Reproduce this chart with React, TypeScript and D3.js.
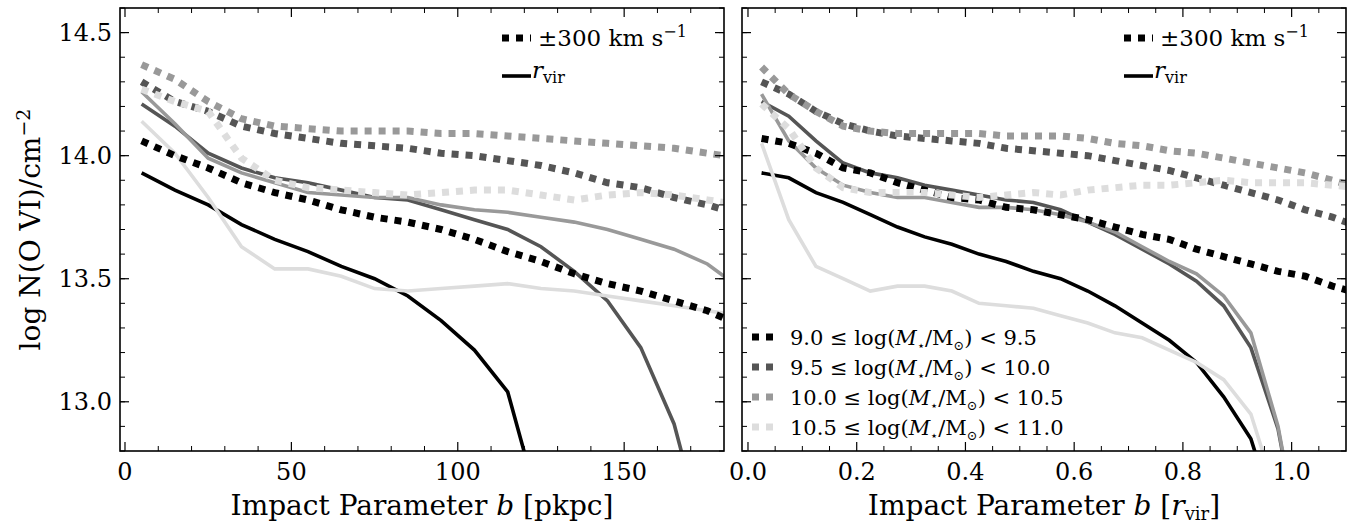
import * as d3 from "d3";

// bins in pkpc (left) and in r_vir (right)
const bKpc = [5, 15, 25, 35, 45, 55, 65, 75, 85, 95, 105, 115, 125, 135, 145, 155, 165, 175, 185];
const bRvir = [0.025, 0.075, 0.125, 0.175, 0.225, 0.275, 0.325, 0.375, 0.425, 0.475, 0.525, 0.575,
  0.625, 0.675, 0.725, 0.775, 0.825, 0.875, 0.925, 0.975, 1.025, 1.075, 1.125];

const massBins = ["9.0", "9.5", "10.0", "10.5", "11.0"];
const colors = ["#000000", "#555555", "#999999", "#dddddd"];

// left panel: within r_vir (solid)
const kpcSolid = [
  [13.93, 13.86, 13.80, 13.72, 13.66, 13.61, 13.55, 13.5, 13.43, 13.33, 13.21, 13.04, 12.55],
  [14.21, 14.12, 14.01, 13.95, 13.91, 13.89, 13.86, 13.83, 13.82, 13.78, 13.74, 13.70, 13.63, 13.53, 13.41, 13.22, 12.91, 12.4],
  [14.26, 14.13, 13.99, 13.93, 13.89, 13.85, 13.84, 13.83, 13.83, 13.80, 13.78, 13.77, 13.75, 13.73, 13.70, 13.66, 13.62, 13.56, 13.46],
  [14.14, 14.01, 13.83, 13.63, 13.54, 13.54, 13.51, 13.46, 13.45, 13.46, 13.47, 13.48, 13.46, 13.45, 13.43, 13.41, 13.39, 13.37, 13.35],
];
// left panel: +-300 km/s (dotted)
const kpcDotted = [
  [14.06, 14.0, 13.95, 13.89, 13.85, 13.82, 13.78, 13.75, 13.73, 13.70, 13.66, 13.61, 13.57, 13.52, 13.48, 13.45, 13.41, 13.37, 13.31],
  [14.30, 14.22, 14.18, 14.12, 14.09, 14.07, 14.05, 14.04, 14.03, 14.01, 14.0, 13.98, 13.96, 13.93, 13.89, 13.87, 13.83, 13.80, 13.76],
  [14.37, 14.31, 14.22, 14.15, 14.12, 14.11, 14.10, 14.10, 14.10, 14.09, 14.09, 14.08, 14.07, 14.06, 14.05, 14.04, 14.03, 14.01, 13.99],
  [14.27, 14.22, 14.18, 13.99, 13.90, 13.87, 13.86, 13.85, 13.84, 13.85, 13.86, 13.86, 13.84, 13.82, 13.84, 13.85, 13.84, 13.82, 13.80],
];
// right panel
const rvirSolid = [
  [13.93, 13.91, 13.85, 13.81, 13.76, 13.71, 13.67, 13.64, 13.60, 13.57, 13.53, 13.50, 13.45, 13.39, 13.32, 13.25, 13.16, 13.02, 12.85, 12.5],
  [14.22, 14.16, 14.06, 13.97, 13.93, 13.91, 13.88, 13.86, 13.84, 13.82, 13.81, 13.78, 13.73, 13.68, 13.62, 13.56, 13.49, 13.39, 13.22, 12.89, 12.3],
  [14.25, 14.06, 13.95, 13.88, 13.85, 13.83, 13.83, 13.81, 13.79, 13.79, 13.78, 13.76, 13.73, 13.69, 13.63, 13.57, 13.52, 13.43, 13.28, 12.9, 12.3],
  [14.05, 13.74, 13.55, 13.5, 13.45, 13.47, 13.47, 13.45, 13.40, 13.39, 13.38, 13.35, 13.32, 13.28, 13.26, 13.21, 13.16, 13.09, 12.95, 12.6],
];
const rvirDotted = [
  [14.07, 14.05, 14.01, 13.95, 13.93, 13.89, 13.86, 13.83, 13.82, 13.79, 13.78, 13.76, 13.74, 13.71, 13.68, 13.66, 13.62, 13.59, 13.56, 13.53, 13.51, 13.47, 13.44],
  [14.30, 14.25, 14.18, 14.13, 14.10, 14.08, 14.07, 14.06, 14.05, 14.03, 14.02, 14.01, 14.0, 13.98, 13.96, 13.94, 13.91, 13.88, 13.85, 13.82, 13.78, 13.75, 13.71],
  [14.36, 14.25, 14.18, 14.12, 14.10, 14.09, 14.09, 14.09, 14.09, 14.08, 14.08, 14.08, 14.07, 14.05, 14.04, 14.02, 14.01, 13.99, 13.97, 13.95, 13.93, 13.90, 13.87],
  [14.21, 14.11, 13.95, 13.87, 13.85, 13.85, 13.85, 13.84, 13.83, 13.84, 13.85, 13.84, 13.86, 13.87, 13.88, 13.88, 13.89, 13.90, 13.89, 13.89, 13.89, 13.88, 13.87],
];

const W = 1351, H = 527;
const top = 8, bottom = 451;
const font = "'DejaVu Serif', 'Liberation Serif', serif";
const yScale = d3.scaleLinear().domain([12.8, 14.6]).range([bottom, top]);
const yMajor = [13.0, 13.5, 14.0, 14.5];
const yMinor = d3.range(12.8, 14.61, 0.1).map((v) => +v.toFixed(1));
const DOT = "7 7";
const SOLID_W = 3.6;

function Panel({ x0, x1, domain, xs, solid, dotted, majors, minors, fmt, xlabel, yLabels, massLegend }: any) {
  const x = d3.scaleLinear().domain(domain).range([x0, x1]);
  const line = d3.line<number>().x((_, i) => x(xs[i])).y((v) => yScale(v));
  return (
    <g>
      <defs>
        <clipPath id={`c${x0}`}><rect x={x0} y={top} width={x1 - x0} height={bottom - top} /></clipPath>
      </defs>
      <g clipPath={`url(#c${x0})`}>
        {solid.map((s: number[], i: number) => (
          <path key={"s" + i} d={line(s) || ""} fill="none" stroke={colors[i]} strokeWidth={SOLID_W} />
        ))}
        {dotted.map((s: number[], i: number) => (
          <path key={"d" + i} d={line(s) || ""} fill="none" stroke={colors[i]} strokeWidth={7} strokeDasharray={DOT} />
        ))}
      </g>
      <rect x={x0} y={top} width={x1 - x0} height={bottom - top} fill="none" stroke="#000" strokeWidth={1.6} />
      {majors.map((t: number) => (
        <g key={"mx" + t}>
          <line x1={x(t)} x2={x(t)} y1={bottom} y2={bottom - 9} stroke="#000" strokeWidth={1.2} />
          <line x1={x(t)} x2={x(t)} y1={top} y2={top + 9} stroke="#000" strokeWidth={1.2} />
          <text x={x(t)} y={bottom + 29} textAnchor="middle" fontSize={24} fontFamily={font}>{fmt(t)}</text>
        </g>
      ))}
      {minors.map((t: number) => (
        <g key={"nx" + t}>
          <line x1={x(t)} x2={x(t)} y1={bottom} y2={bottom - 5} stroke="#000" strokeWidth={1} />
          <line x1={x(t)} x2={x(t)} y1={top} y2={top + 5} stroke="#000" strokeWidth={1} />
        </g>
      ))}
      {yMajor.map((t) => (
        <g key={"my" + t}>
          <line x1={x0} x2={x0 + 9} y1={yScale(t)} y2={yScale(t)} stroke="#000" strokeWidth={1.2} />
          <line x1={x1} x2={x1 - 9} y1={yScale(t)} y2={yScale(t)} stroke="#000" strokeWidth={1.2} />
          {yLabels && (
            <text x={x0 - 8} y={yScale(t) + 8} textAnchor="end" fontSize={24} fontFamily={font}>{t.toFixed(1)}</text>
          )}
        </g>
      ))}
      {yMinor.map((t) => (
        <g key={"ny" + t}>
          <line x1={x0} x2={x0 + 5} y1={yScale(t)} y2={yScale(t)} stroke="#000" strokeWidth={1} />
          <line x1={x1} x2={x1 - 5} y1={yScale(t)} y2={yScale(t)} stroke="#000" strokeWidth={1} />
        </g>
      ))}
      <text x={(x0 + x1) / 2} y={H - 12} textAnchor="middle" fontSize={28} fontFamily={font}>{xlabel}</text>
      {/* line-style legend */}
      <line x1={x1 - 222} x2={x1 - 193} y1={38} y2={38} stroke="#000" strokeWidth={7} strokeDasharray={DOT} />
      <text x={x1 - 186} y={46} fontSize={23} fontFamily={font}>±300 km s<tspan dy={-9} fontSize={16}>−1</tspan></text>
      <line x1={x1 - 222} x2={x1 - 193} y1={76} y2={76} stroke="#000" strokeWidth={SOLID_W} />
      <text x={x1 - 192} y={78} fontSize={23} fontFamily={font} fontStyle="italic">r<tspan dy={5} fontSize={16} fontStyle="normal">vir</tspan></text>
      {massLegend && colors.map((c, i) => (
        <g key={"ml" + i}>
          <line x1={x0 + 10} x2={x0 + 38} y1={337 + i * 30} y2={337 + i * 30} stroke={c} strokeWidth={7} strokeDasharray={DOT} />
          <text x={x0 + 48} y={345 + i * 30} fontSize={21} fontFamily={font}>
            {massBins[i]} ≤ log(<tspan fontStyle="italic">M</tspan><tspan dy={5} fontSize={13}>⋆</tspan><tspan dy={-5}>/M</tspan><tspan dy={5} fontSize={13}>⊙</tspan><tspan dy={-5}>) &lt; {massBins[i + 1]}</tspan>
          </text>
        </g>
      ))}
    </g>
  );
}

export default function App() {
  const fmtK = (t: number) => String(t);
  const fmtR = (t: number) => t.toFixed(1);
  return (
    <svg width={W} height={H} style={{ position: "absolute", left: 0, top: 0, background: "#fff" }}>
      <Panel x0={120} x1={724} domain={[-1.5, 180]} xs={bKpc} solid={kpcSolid} dotted={kpcDotted}
        majors={[0, 50, 100, 150]} minors={d3.range(10, 180, 10).filter((t) => t % 50 !== 0)} fmt={fmtK}
        xlabel={<>Impact Parameter <tspan fontStyle="italic">b</tspan> [pkpc]</>} yLabels={true} massLegend={false} />
      <Panel x0={742} x1={1346} domain={[-0.011, 1.1]} xs={bRvir} solid={rvirSolid} dotted={rvirDotted}
        majors={[0, 0.2, 0.4, 0.6, 0.8, 1.0]} minors={[0.05, 0.1, 0.15, 0.25, 0.3, 0.35, 0.45, 0.5, 0.55, 0.65, 0.7, 0.75, 0.85, 0.9, 0.95, 1.05]} fmt={fmtR}
        xlabel={<>Impact Parameter <tspan fontStyle="italic">b</tspan> [<tspan fontStyle="italic">r</tspan><tspan dy={5} fontSize={18}>vir</tspan><tspan dy={-5}>]</tspan></>}
        yLabels={false} massLegend={true} />
      <text transform={`translate(40,${(top + bottom) / 2}) rotate(-90)`} textAnchor="middle" fontSize={28} fontFamily={font}>
        log N(O VI)/cm<tspan dy={-10} fontSize={19}>−2</tspan>
      </text>
    </svg>
  );
}
